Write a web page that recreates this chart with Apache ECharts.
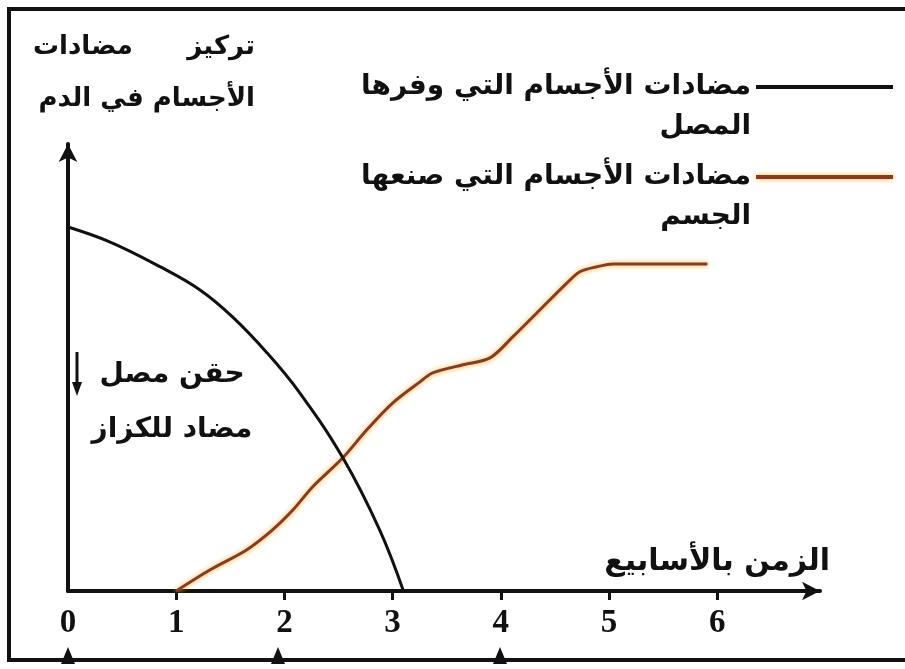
<!DOCTYPE html>
<html>
<head>
<meta charset="utf-8">
<script src="https://cdn.jsdelivr.net/npm/echarts@6/dist/echarts.min.js"></script>
<style>
  html, body { margin: 0; padding: 0; background: #fff; }
  #chart { width: 905px; height: 669px; }
</style>
</head>
<body>
<div id="chart"></div>
<script>
// Time axis (weeks) and tick labels
const weekTicks = [0, 1, 2, 3, 4, 5, 6];
const weekMarks = [1, 2, 3, 4, 5, 6];

// Antibodies supplied by the serum: falls after the injection
const serumWeeks = [0, 0.39, 0.85, 1.22, 1.52, 1.84, 2.14, 2.54, 2.88, 3.10];
const serumLevel = [79.8, 76.5, 71.1, 66.0, 60.1, 52.2, 43.5, 29.2, 13.4, 0];

// Antibodies produced by the body: rises from week 1 then levels off
const bodyWeeks = [1.0, 1.31, 1.65, 1.89, 2.08, 2.26, 2.54, 2.76, 3.00, 3.25, 3.37, 3.65, 3.90, 4.11, 4.36, 4.61, 4.73, 4.89, 5.04, 5.91];
const bodyLevel = [0, 4.6, 9.0, 13.4, 17.8, 22.8, 29.2, 35.3, 41.2, 45.8, 47.8, 49.6, 51.1, 55.7, 61.6, 67.5, 70.0, 71.1, 71.7, 71.7];

// Texts
const seriesNames = ['مضادات الأجسام التي وفرها المصل', 'مضادات الأجسام التي صنعها الجسم'];
const legendLines = {
  'مضادات الأجسام التي وفرها المصل': ['مضادات الأجسام التي وفرها', 'المصل'],
  'مضادات الأجسام التي صنعها الجسم': ['مضادات الأجسام التي صنعها', 'الجسم']
};
const yTitle = 'تركيز      مضادات\nالأجسام في الدم';
const xTitle = 'الزمن بالأسابيع';
const injectionNote = 'حقن مصل\nمضاد للكزاز';

const FONT = "'DejaVu Sans', sans-serif";
const SERUM_COLOR = '#111111';
const BODY_COLOR = '#8c3a1e';
const BODY_GLOW = 'rgba(255, 175, 40, 0.95)';

function pairs(xs, ys) { return xs.map((x, i) => [x, ys[i]]); }

const chart = echarts.init(document.getElementById('chart'), null, { renderer: 'canvas' });

chart.setOption({
  backgroundColor: '#ffffff',
  animation: false,
  title: {
    text: yTitle,
    left: 250,
    top: 16,
    textAlign: 'right',
    textStyle: { fontFamily: FONT, fontWeight: 'bold', fontSize: 26, lineHeight: 52, color: '#111' }
  },
  legend: {
    orient: 'vertical',
    right: 7,
    top: 22,
    align: 'right',
    itemWidth: 137,
    itemHeight: 4,
    itemGap: -30,
    selectedMode: false,
    data: [
      { name: seriesNames[0], icon: 'rect', itemStyle: { color: SERUM_COLOR } },
      { name: seriesNames[1], icon: 'rect', itemStyle: { color: BODY_COLOR, shadowColor: BODY_GLOW, shadowBlur: 5 } }
    ],
    // blank first line keeps the key line level with the first text line
    formatter: (name) => '\n' + legendLines[name].join('\n'),
    textStyle: {
      fontFamily: FONT, fontWeight: 'bold', fontSize: 28, lineHeight: 40,
      color: '#111', align: 'right'
    }
  },
  grid: { left: 68, right: 85, top: 144, bottom: 78 },
  xAxis: {
    type: 'value',
    min: 0,
    max: 6.95,
    name: xTitle,
    nameLocation: 'end',
    nameGap: 10,
    nameTextStyle: {
      fontFamily: FONT, fontWeight: 'bold', fontSize: 30, color: '#111',
      align: 'right', verticalAlign: 'bottom', padding: [0, 0, 14, 0]
    },
    splitLine: { show: false },
    axisLine: {
      onZero: false,
      lineStyle: { color: '#111', width: 4 },
      symbol: ['none', 'arrow'],
      symbolSize: [14, 18]
    },
    axisTick: {
      show: true, inside: false, length: 9,
      customValues: weekMarks,
      lineStyle: { color: '#111', width: 3 }
    },
    axisLabel: {
      customValues: weekTicks,
      margin: 16,
      fontFamily: "'Liberation Serif', serif",
      fontWeight: 'bold',
      fontSize: 33,
      color: '#111'
    }
  },
  yAxis: {
    type: 'value',
    min: 0,
    max: 98,
    splitLine: { show: false },
    axisTick: { show: false },
    axisLabel: { show: false },
    axisLine: {
      onZero: false,
      lineStyle: { color: '#111', width: 4 },
      symbol: ['none', 'arrow'],
      symbolSize: [14, 18]
    }
  },
  series: [
    {
      name: seriesNames[0],
      type: 'line',
      data: pairs(serumWeeks, serumLevel),
      symbol: 'none',
      smooth: 0.4,
      lineStyle: { color: SERUM_COLOR, width: 3 },
      itemStyle: { color: SERUM_COLOR },
      z: 3
    },
    {
      name: seriesNames[1],
      type: 'line',
      data: pairs(bodyWeeks, bodyLevel),
      symbol: 'none',
      smooth: 0.3,
      lineStyle: { color: BODY_COLOR, width: 3, shadowColor: BODY_GLOW, shadowBlur: 5 },
      itemStyle: { color: BODY_COLOR },
      z: 2
    }
  ],
  graphic: [
    // page frame
    {
      type: 'polyline', silent: true,
      shape: { points: [[905, 9], [9, 9], [9, 660], [905, 660]] },
      style: { stroke: '#111', lineWidth: 4, fill: null }
    },
    // markers along the bottom rule
    { type: 'polygon', silent: true, shape: { points: [[61, 664], [68, 647], [75, 664]] }, style: { fill: '#111' } },
    { type: 'polygon', silent: true, shape: { points: [[271, 664], [278, 647], [285, 664]] }, style: { fill: '#111' } },
    { type: 'polygon', silent: true, shape: { points: [[493, 664], [500, 647], [507, 664]] }, style: { fill: '#111' } },
    // injection arrow
    {
      type: 'line', silent: true,
      shape: { x1: 77, y1: 352, x2: 77, y2: 386 },
      style: { stroke: '#111', lineWidth: 3 }
    },
    { type: 'polygon', silent: true, shape: { points: [[72, 382], [77, 396], [82, 382]] }, style: { fill: '#111' } },
    // injection note
    {
      type: 'text', silent: true,
      x: 172, y: 402,
      style: {
        text: injectionNote,
        fontFamily: FONT, fontWeight: 'bold', fontSize: 28, lineHeight: 55,
        fill: '#111', align: 'center', verticalAlign: 'middle'
      }
    }
  ]
});
</script>
</body>
</html>
